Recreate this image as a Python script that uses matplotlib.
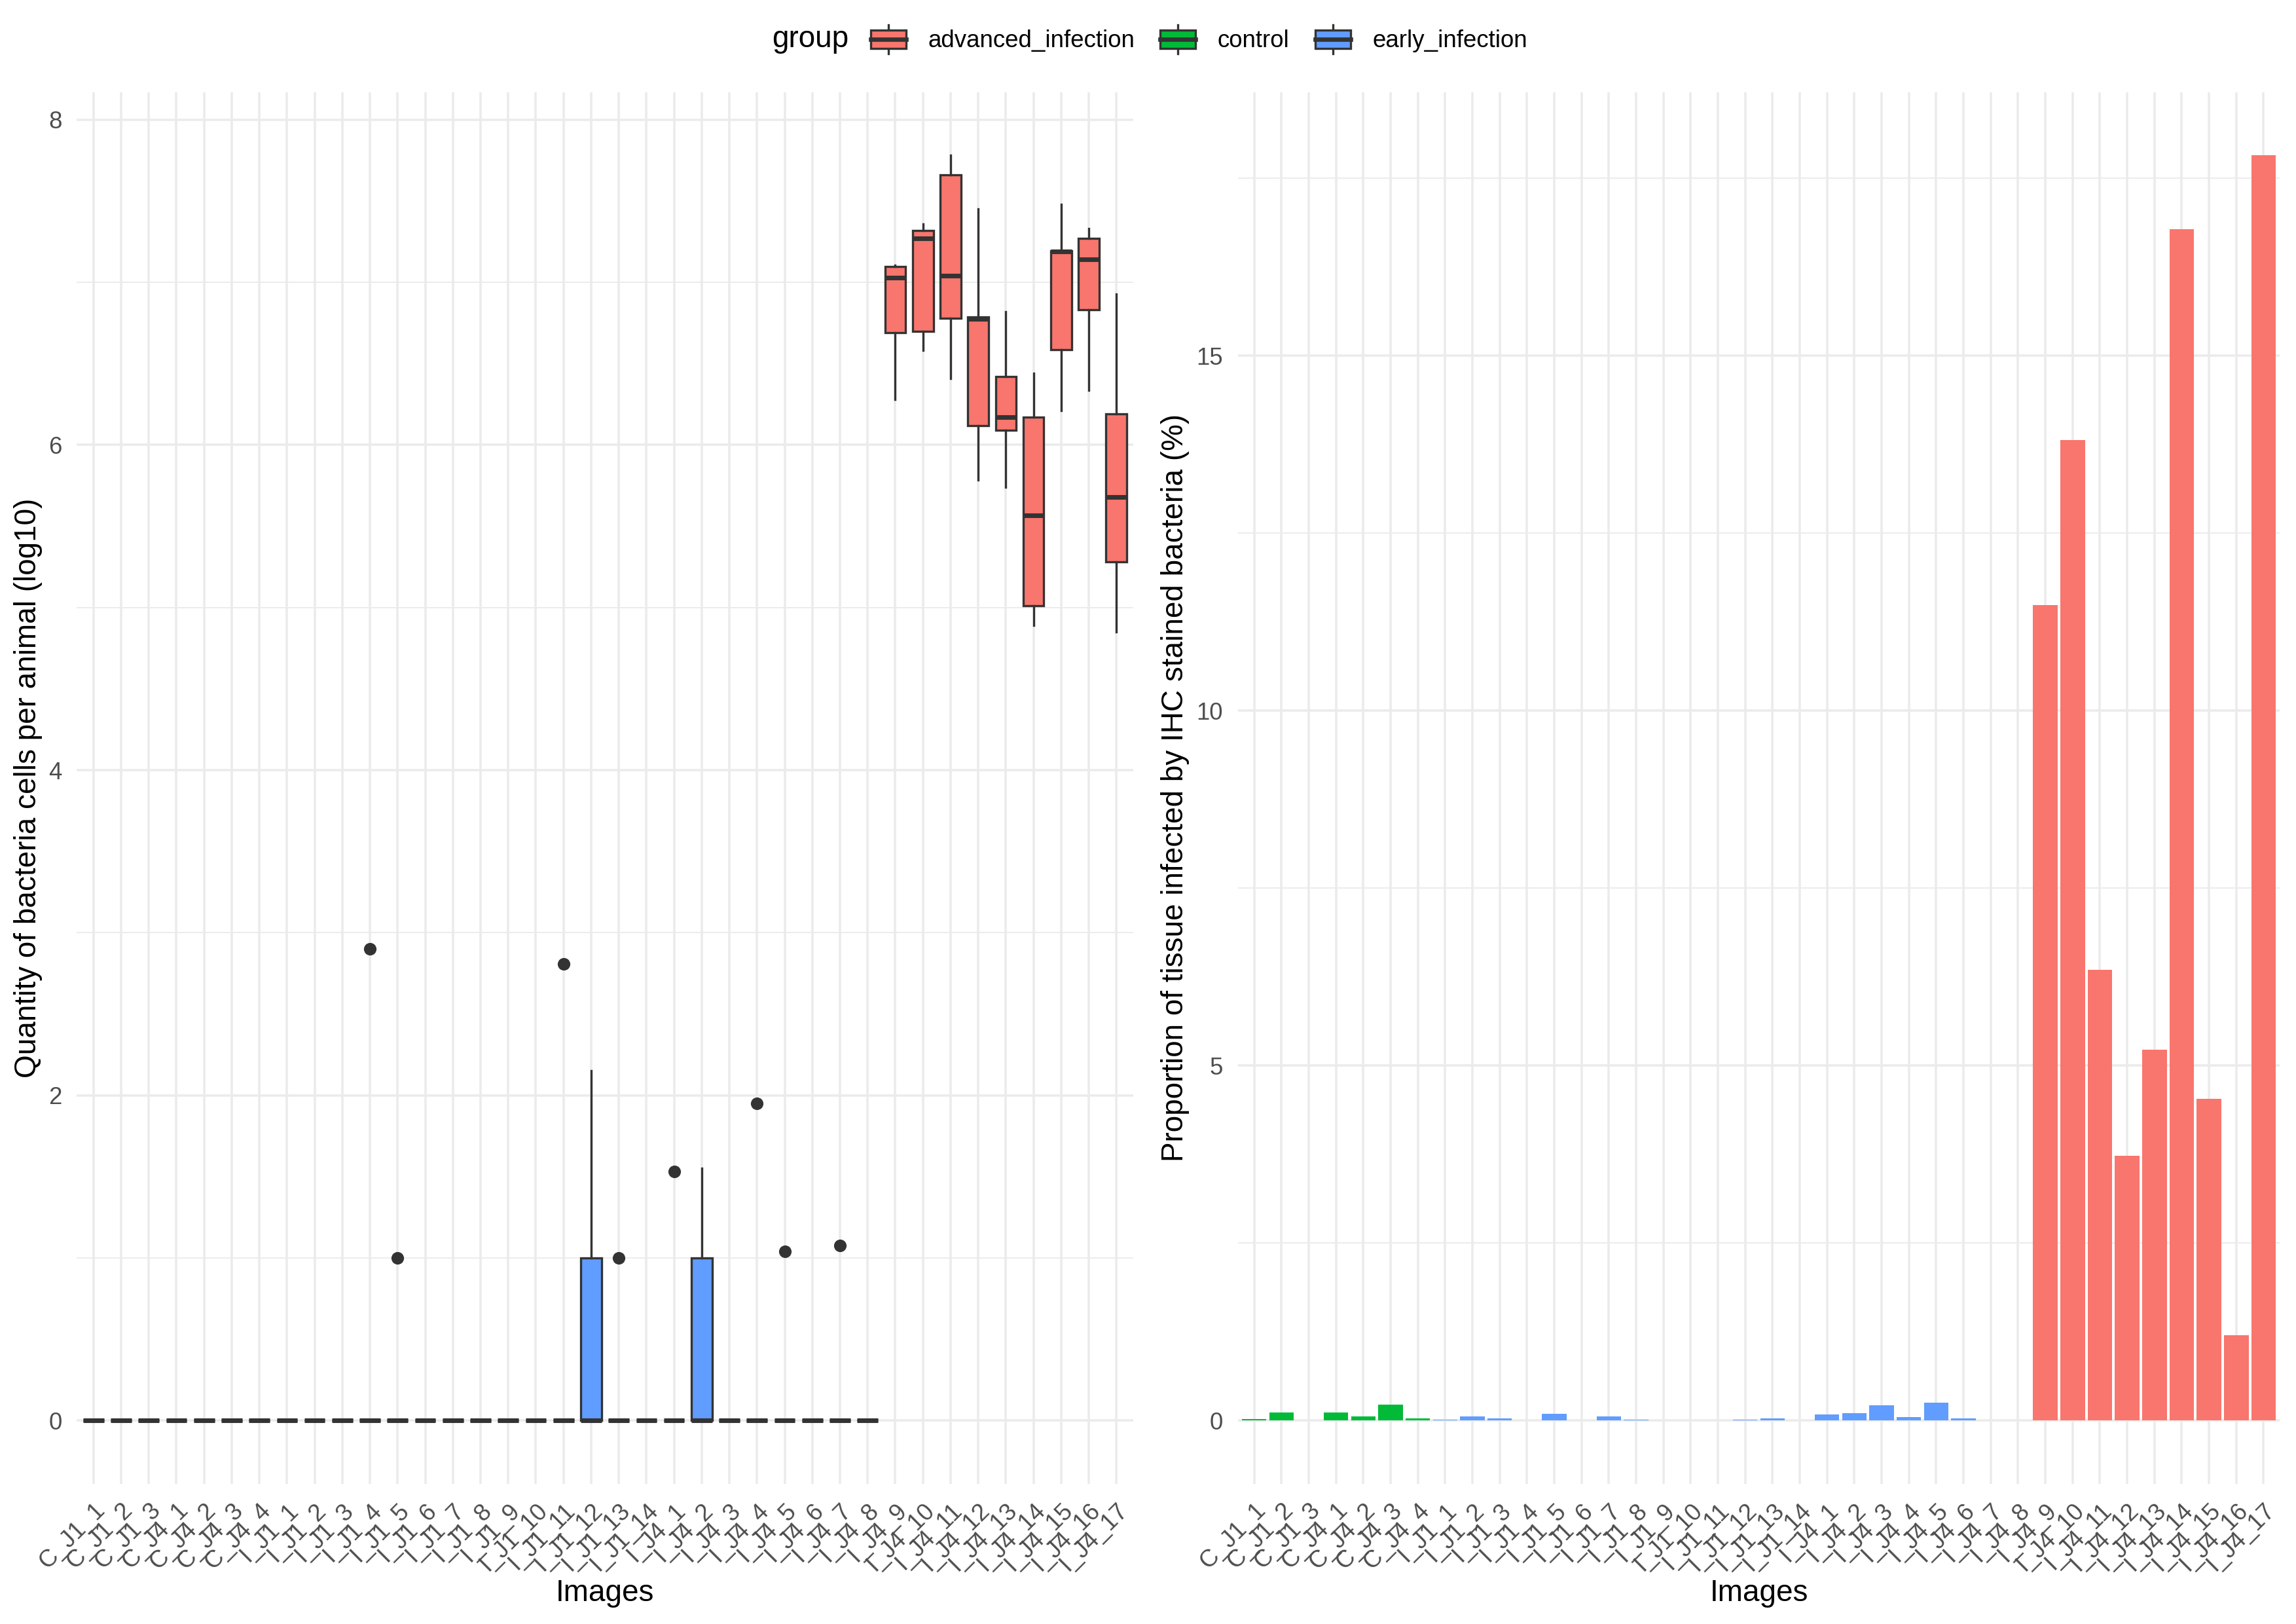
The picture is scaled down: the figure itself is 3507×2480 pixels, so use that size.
import matplotlib
matplotlib.use('Agg')
import matplotlib.pyplot as plt
from matplotlib.patches import Patch, Rectangle
from matplotlib.lines import Line2D
from matplotlib.legend_handler import HandlerBase
from matplotlib.ticker import MultipleLocator

plt.rcParams['font.family'] = ['Liberation Sans', 'DejaVu Sans']

# image ids along the x axis
images = ['C_J1_1', 'C_J1_2', 'C_J1_3', 'C_J4_1', 'C_J4_2', 'C_J4_3', 'C_J4_4',
          'I_J1_1', 'I_J1_2', 'I_J1_3', 'I_J1_4', 'I_J1_5', 'I_J1_6', 'I_J1_7',
          'I_J1_8', 'I_J1_9', 'I_J1_10', 'I_J1_11', 'I_J1_12', 'I_J1_13', 'I_J1_14',
          'I_J4_1', 'I_J4_2', 'I_J4_3', 'I_J4_4', 'I_J4_5', 'I_J4_6', 'I_J4_7',
          'I_J4_8', 'I_J4_9', 'I_J4_10', 'I_J4_11', 'I_J4_12', 'I_J4_13', 'I_J4_14',
          'I_J4_15', 'I_J4_16', 'I_J4_17']
groups = ['control'] * 7 + ['early_infection'] * 22 + ['advanced_infection'] * 9
group_names = ['advanced_infection', 'control', 'early_infection']
group_colors = {'advanced_infection': '#F8766D', 'control': '#00BA38',
                'early_infection': '#619CFF'}

# left panel: box stats (log10 bacteria per animal)
zeros29 = [0.0] * 29
q1 = zeros29 + [6.69, 6.70, 6.78, 6.12, 6.09, 5.01, 6.585, 6.83, 5.28]
med = zeros29 + [7.03, 7.27, 7.04, 6.775, 6.17, 5.565, 7.19, 7.14, 5.68]
q3 = ([0.0] * 18 + [1.0] + [0.0] * 3 + [1.0] + [0.0] * 6
      + [7.098, 7.32, 7.66, 6.786, 6.42, 6.17, 7.195, 7.27, 6.19])
whislo = zeros29 + [6.28, 6.58, 6.41, 5.785, 5.74, 4.89, 6.21, 6.335, 4.85]
whishi = ([0.0] * 18 + [2.15] + [0.0] * 3 + [1.55] + [0.0] * 6
          + [7.105, 7.36, 7.78, 7.45, 6.82, 6.44, 7.48, 7.33, 6.93])
fliers = {'I_J1_4': [2.90], 'I_J1_5': [1.0], 'I_J1_11': [2.81], 'I_J1_13': [1.0],
          'I_J4_1': [1.53], 'I_J4_4': [1.95], 'I_J4_5': [1.04], 'I_J4_7': [1.075]}

# right panel: % tissue infected (IHC)
ihc_pct = [0.022, 0.117, 0.008, 0.114, 0.058, 0.222, 0.028,
           0.012, 0.055, 0.034, 0.005, 0.092, 0.0, 0.058, 0.015, 0.0, 0.0, 0.0,
           0.009, 0.028, 0.003,
           0.083, 0.105, 0.218, 0.052, 0.252, 0.034, 0.0, 0.0,
           11.49, 13.81, 6.35, 3.73, 5.22, 16.78, 4.53, 1.20, 17.82]

EDGE = '#333333'
GRID = '#EBEBEB'
TICK = '#4D4D4D'


class BoxKey(HandlerBase):
    # ggplot-like boxplot legend glyph
    def create_artists(self, legend, orig, xd, yd, w, h, fontsize, trans):
        x0, y0 = -xd, -yd
        fc = orig.get_facecolor()
        lw = 0.8
        arts = [
            Line2D([x0 + w / 2] * 2, [y0 + 0.1 * h, y0 + 0.25 * h], color=EDGE, lw=lw),
            Line2D([x0 + w / 2] * 2, [y0 + 0.75 * h, y0 + 0.9 * h], color=EDGE, lw=lw),
            Rectangle((x0 + 0.125 * w, y0 + 0.25 * h), 0.75 * w, 0.5 * h,
                      facecolor=fc, edgecolor=EDGE, lw=lw),
            Line2D([x0 + 0.125 * w, x0 + 0.875 * w], [y0 + h / 2] * 2, color=EDGE, lw=1.6),
        ]
        for a in arts:
            a.set_transform(trans)
        return arts


def style_axes(ax):
    for s in ax.spines.values():
        s.set_visible(False)
    ax.set_axisbelow(True)
    ax.grid(which='major', color=GRID, linewidth=0.85)
    ax.grid(which='minor', axis='y', color=GRID, linewidth=0.45)
    ax.tick_params(which='both', length=0, labelsize=8.8, labelcolor=TICK, pad=5.5)
    ax.set_xlim(0.4, len(images) + 0.6)
    ax.set_xticks(pos)
    ax.set_xticklabels(images, rotation=45, ha='right', va='top', rotation_mode='anchor')
    ax.set_xlabel('Images', fontsize=11)
    ax.xaxis.set_label_coords(0.5, -0.0786)
    ax.xaxis.label.set_va('center')


pos = list(range(1, len(images) + 1))
colors = [group_colors[g] for g in groups]

fig = plt.figure(figsize=(3507 / 300, 2480 / 300), dpi=300)
ax1 = fig.add_axes([0.03348, 0.0863, 0.46, 0.8569])
ax2 = fig.add_axes([0.5391, 0.0863, 0.4539, 0.8569])

# boxplots
stats = []
for i, name in enumerate(images):
    stats.append({'med': med[i], 'q1': q1[i], 'q3': q3[i], 'whislo': whislo[i],
                  'whishi': whishi[i], 'fliers': fliers.get(name, [])})
bp = ax1.bxp(stats, positions=pos, widths=0.75, patch_artist=True, showcaps=False,
             boxprops=dict(edgecolor=EDGE, linewidth=0.8),
             whiskerprops=dict(color=EDGE, linewidth=0.8),
             medianprops=dict(color=EDGE, linewidth=1.7, solid_capstyle='butt', zorder=3),
             flierprops=dict(marker='o', markerfacecolor=EDGE, markeredgecolor=EDGE,
                             markersize=4.3, markeredgewidth=0.3))
for patch, c in zip(bp['boxes'], colors):
    patch.set_facecolor(c)

lo = min(whislo)
hi = max(max(whishi), max(v for f in fliers.values() for v in f))
ax1.set_ylim(lo - 0.05 * (hi - lo), hi + 0.05 * (hi - lo))
ax1.yaxis.set_major_locator(MultipleLocator(2))
ax1.yaxis.set_minor_locator(MultipleLocator(1))
style_axes(ax1)
ax1.set_ylabel('Quantity of bacteria cells per animal (log10)', fontsize=11)
ax1.yaxis.set_label_coords(-0.0461, 0.5)
ax1.yaxis.label.set_va('center')

# bars
ax2.bar(pos, ihc_pct, width=0.9, color=colors, linewidth=0)
top = max(ihc_pct)
ax2.set_ylim(-0.05 * top, 1.05 * top)
ax2.yaxis.set_major_locator(MultipleLocator(5))
ax2.yaxis.set_minor_locator(MultipleLocator(2.5))
style_axes(ax2)
ax2.set_ylabel('Proportion of tissue infected by IHC stained bacteria (%)', fontsize=11)
ax2.yaxis.set_label_coords(-0.0602, 0.5)
ax2.yaxis.label.set_va('center')

# shared legend on top
handles = [Patch(facecolor=group_colors[g], label=g) for g in group_names]
ly = 1 - 60 / 2480
fig.text(1296 / 3507, 1 - 72 / 2480, 'group', ha='right', va='baseline', fontsize=11)
fig.legend(handles=handles, loc='center left', bbox_to_anchor=(1321 / 3507, ly),
           ncol=3, frameon=False, fontsize=8.8, borderpad=0, borderaxespad=0,
           handlelength=1.96, handleheight=1.96, handletextpad=0.67,
           columnspacing=0.82, handler_map={Patch: BoxKey()})

fig.savefig('out.png', dpi=300)
plt.close(fig)
